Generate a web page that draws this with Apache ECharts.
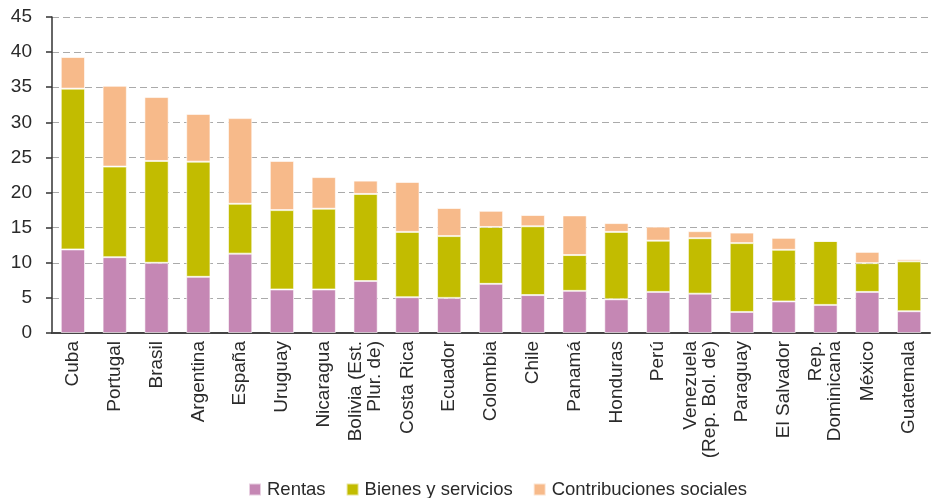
<!DOCTYPE html>
<html><head><meta charset="utf-8">
<script src="https://cdn.jsdelivr.net/npm/echarts@6/dist/echarts.min.js"></script>
<style>html,body{margin:0;padding:0;background:#fff}#c{width:932px;height:498px}</style>
</head><body><div id="c"></div>
<script>
var categories = ["Cuba","Portugal","Brasil","Argentina","España","Uruguay","Nicaragua","Bolivia (Est.\nPlur. de)","Costa Rica","Ecuador","Colombia","Chile","Panamá","Honduras","Perú","Venezuela\n(Rep. Bol. de)","Paraguay","El Salvador","Rep.\nDominicana","México","Guatemala"];
var rentas = [11.9,10.8,10.0,8.0,11.3,6.2,6.2,7.4,5.1,5.0,7.0,5.4,6.0,4.8,5.85,5.6,3.0,4.5,4.0,5.85,3.1];
var bienes = [22.9,12.9,14.5,16.4,7.1,11.3,11.5,12.4,9.3,8.8,8.1,9.8,5.1,9.6,7.3,7.9,9.8,7.35,9.1,4.1,7.1];
var contribuciones = [4.5,11.5,9.1,6.8,12.2,7.0,4.5,1.9,7.1,4.0,2.3,1.6,5.65,1.25,2.0,1.0,1.5,1.7,0,1.6,0.3];
var seriesNames = ["Rentas","Bienes y servicios","Contribuciones sociales"];
var yTicks = {min:0,max:45,interval:5};

var font = "'Liberation Sans', Arial, sans-serif";
var colors = ["#C587B4","#C2BC00","#F7BA8A"];
var chart = echarts.init(document.getElementById('c'), null, {renderer:'canvas'});
function mk(name, data, i){
  return {name:name, type:'bar', stack:'t', data:data, barWidth:'58%',
    itemStyle:{color:colors[i], borderColor:'rgba(255,255,255,0.6)', borderWidth:1},
    emphasis:{disabled:true}};
}
chart.setOption({
  animation:false,
  color:colors,
  textStyle:{fontFamily:font},
  grid:{left:52,right:2,top:17,bottom:165,containLabel:false},
  legend:{bottom:-6,left:243,itemWidth:12,itemHeight:12,itemGap:20,
    icon:'rect',textStyle:{fontSize:18.5,color:'#2a2a2a',fontFamily:font,padding:[0,0,0,1]},
    data:seriesNames},
  xAxis:{type:'category',data:categories,
    axisLine:{show:true,lineStyle:{color:'#444',width:2}},
    axisTick:{show:false},
    axisLabel:{rotate:90,fontSize:19,color:'#2a2a2a',fontFamily:font,margin:8,interval:0,lineHeight:19}},
  yAxis:{type:'value',min:yTicks.min,max:yTicks.max,interval:yTicks.interval,
    axisLine:{show:true,lineStyle:{color:'#333',width:1.5}},
    axisTick:{show:true,length:6,lineStyle:{color:'#333',width:1.5}},
    axisLabel:{fontSize:19,color:'#2a2a2a',fontFamily:font,margin:20},
    splitLine:{show:true,lineStyle:{color:'#aaa',type:[7,4],width:1}}},
  series:[mk(seriesNames[0],rentas,0),mk(seriesNames[1],bienes,1),mk(seriesNames[2],contribuciones,2)]
});
</script></body></html>
